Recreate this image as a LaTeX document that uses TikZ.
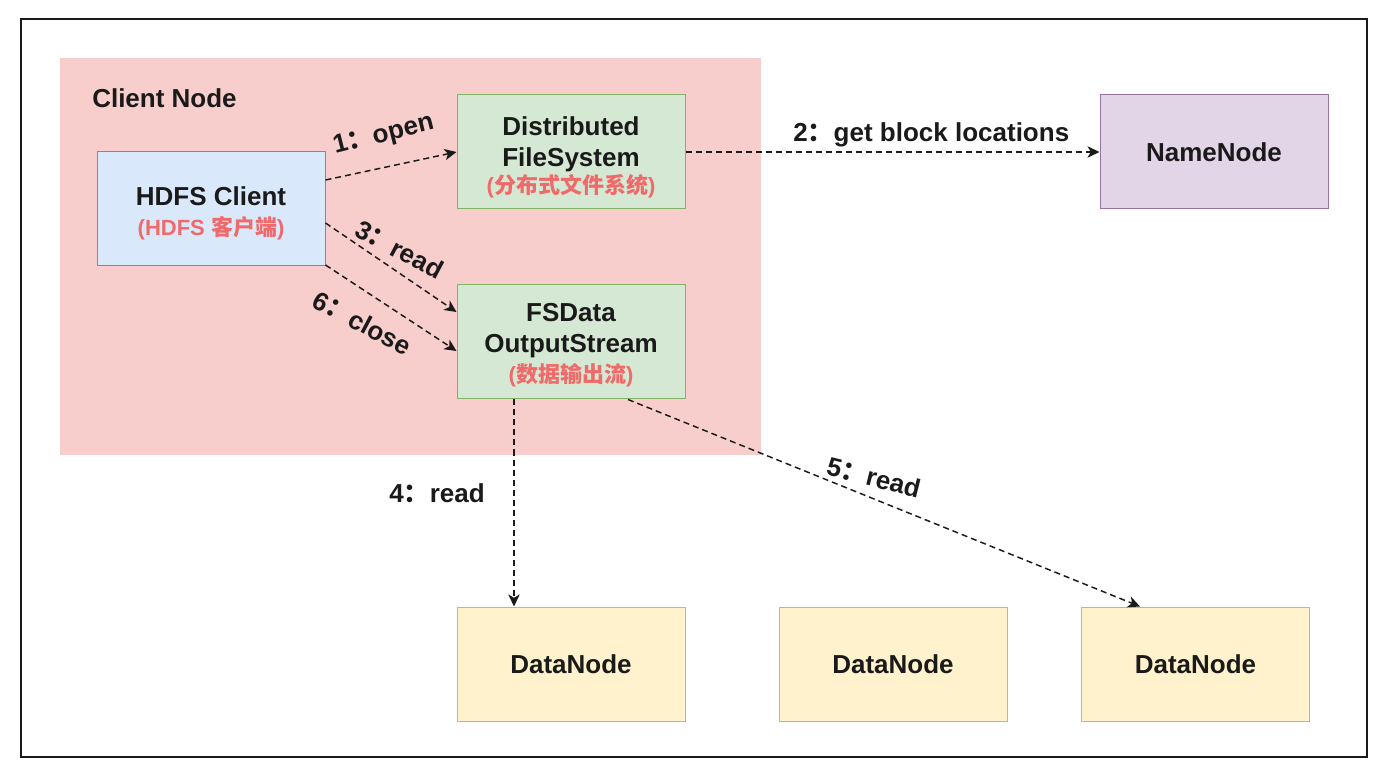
\documentclass[tikz,border=0pt]{standalone}
\usepackage{fontspec}
\setmainfont{Liberation Sans}
\newfontfamily\cjk{Noto Sans CJK SC}
\usetikzlibrary{arrows.meta,calc}
\definecolor{pinkbg}{HTML}{F8CECC}
\definecolor{bluef}{HTML}{DAE8FC}
\definecolor{blued}{HTML}{6C8EBF}
\definecolor{greenf}{HTML}{D5E8D4}
\definecolor{greend}{HTML}{82B366}
\definecolor{purplef}{HTML}{E1D5E7}
\definecolor{purpled}{HTML}{9673A6}
\definecolor{yellowf}{HTML}{FFF2CC}
\definecolor{yellowd}{HTML}{D6B656}
\definecolor{redt}{HTML}{F06A6A}
\definecolor{inkc}{HTML}{1A1A1A}
\newcommand{\fwc}{{\cjk ：}}
\newcommand{\redtxt}[1]{{\color{redt}\fontsize{16.5}{20}\selectfont #1}}
\newcommand{\topstrut}[1]{\rule{0pt}{#1}}
\begin{document}
\begin{tikzpicture}[x=0.75pt,y=-0.75pt,
  every node/.style={font=\fontsize{19.5}{23.25}\selectfont\bfseries, text=inkc},
  box/.style={draw, line width=0.75pt, minimum width=171pt, minimum height=85.5pt, inner sep=0pt, align=center},
  conn/.style={draw=inkc, line width=1.1pt, dash pattern=on 4.5pt off 3pt, -{Stealth[length=9pt,width=8.5pt,inset=2.5pt]}},
  lbl/.style={inner sep=0pt, text height=0.75em, text depth=0.2em, anchor=center}]
\useasboundingbox (0,0) rectangle (1378,773);
\draw[line width=1.5pt, draw=inkc, fill=white] (21,19) rectangle (1367,757);
\fill[pinkbg] (60,58) rectangle (761,455);
\node[anchor=west, inner sep=0pt] (cnlabel) at (92,98) {Client Node};

\node[box, fill=bluef, draw=blued] (hc) at (211,209) {\topstrut{20pt}HDFS Client\\[-0.75pt]\redtxt{(HDFS {\cjk 客户端})}};
\node[box, fill=greenf, draw=greend] (dfs) at (571,152) {\topstrut{22.5pt}Distributed\\FileSystem\\[-3pt]\redtxt{({\cjk 分布式文件系统})}};
\node[box, fill=greenf, draw=greend] (fs) at (571,342) {\topstrut{18.7pt}FSData\\OutputStream\\[-1pt]\redtxt{({\cjk 数据输出流})}};
\node[box, fill=purplef, draw=purpled] (nn) at (1214,152) {NameNode};
\node[box, fill=yellowf, draw=yellowd] (dn1) at (571,664) {DataNode};
\node[box, fill=yellowf, draw=yellowd] (dn2) at (893,664) {DataNode};
\node[box, fill=yellowf, draw=yellowd] (dn3) at (1195.5,664) {DataNode};

\coordinate (a1s) at ($(hc.east)+(0,-29)$);
\coordinate (a3s) at ($(hc.east)+(0,14)$);
\coordinate (a3e) at ($(fs.west)+(0,-30)$);
\coordinate (a6s) at ($(hc.east)+(0,56)$);
\coordinate (a6e) at ($(fs.west)+(0,9)$);
\coordinate (a4s) at ($(fs.south)+(-57,0)$);
\coordinate (a4e) at ($(dn1.north)+(-57,0)$);
\coordinate (a5s) at ($(fs.south)+(57,0)$);
\coordinate (a5e) at ($(dn3.north)+(-55.5,0)$);

\draw[conn] (a1s) -- node[lbl, pos=0.5, xshift=-5pt, yshift=21pt, rotate=14] (l1) {1\fwc open} (dfs.west);
\draw[conn] (dfs.east) -- node[lbl, pos=0.6, xshift=-2pt, yshift=10.5pt] (l2) {2\fwc get block locations} (nn.west);
\draw[conn] (a3s) -- node[lbl, pos=0.5, xshift=4.5pt, yshift=10pt, rotate=-28] (l3) {3\fwc read} (a3e);
\draw[conn] (a6s) -- node[lbl, pos=0.4, xshift=-13.5pt, yshift=-21.5pt, rotate=-28] (l6) {6\fwc close} (a6e);
\draw[conn] (a4s) -- node[lbl, pos=0.45, xshift=-57.75pt, yshift=-4.5pt] (l4) {4\fwc read} (a4e);
\draw[conn] (a5s) -- node[lbl, pos=0.48, xshift=-1pt, yshift=12pt, rotate=-14] (l5) {5\fwc read} (a5e);
\end{tikzpicture}
\end{document}
